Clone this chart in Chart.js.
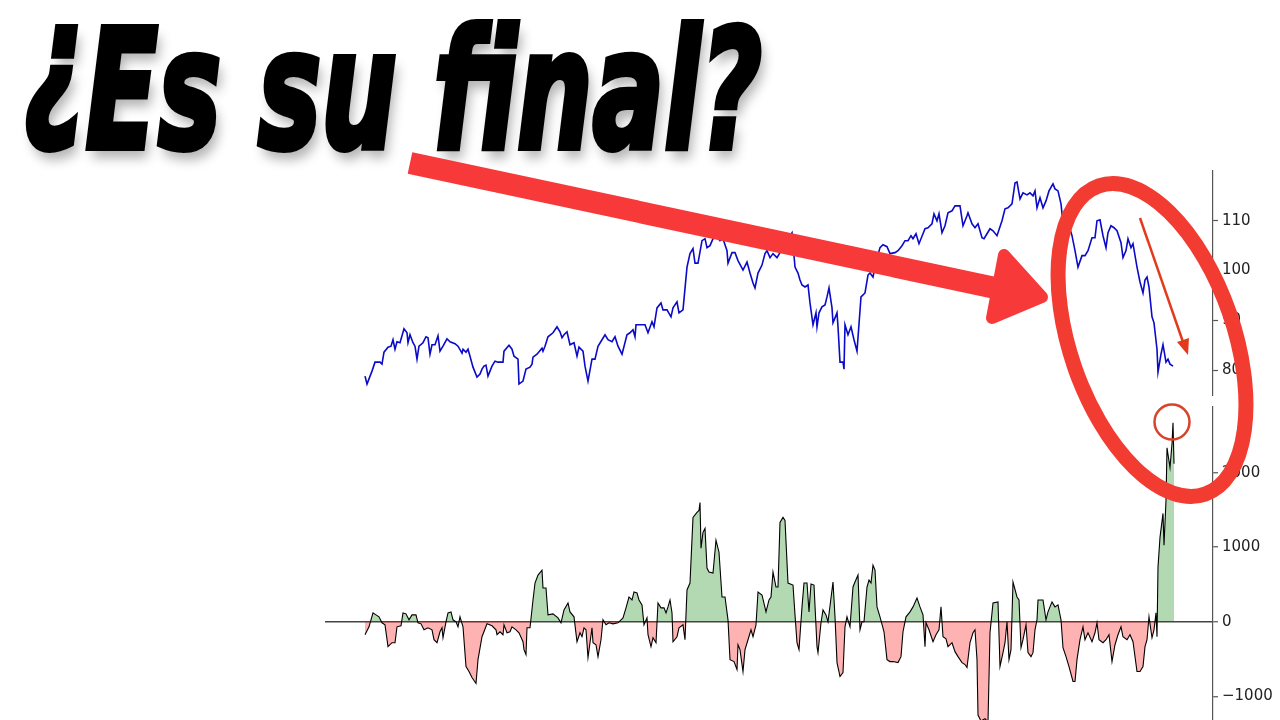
<!DOCTYPE html>
<html>
<head>
<meta charset="utf-8">
<script src="https://cdn.jsdelivr.net/npm/chart.js@4.4.1/dist/chart.umd.min.js"></script>
<style>
  html, body { margin: 0; padding: 0; background: #fff; width: 1280px; height: 720px; overflow: hidden; }
  #title {
    position: absolute; left: 24px; top: 8px;
    font-family: "Liberation Sans Narrow", "DejaVu Sans Condensed", "DejaVu Sans", sans-serif;
    font-stretch: condensed;
    font-weight: bold; font-style: italic;
    font-size: 166px; line-height: 1;
    color: #000;
    -webkit-text-stroke: 6px #000;
    text-shadow: 6px 10px 14px rgba(0, 0, 0, 0.3);
    white-space: nowrap;
    transform-origin: left top;
  }
  #title .inv { position: relative; top: -30px; }
  canvas { position: absolute; }
  #priceChart { left: 325px; top: 158px; }
  #oscChart { left: 325px; top: 394px; }
  #marks { position: absolute; left: 0; top: 0; }
</style>
</head>
<body>
<div id="title"><span class="inv">¿</span>Es su final?</div>
<canvas id="priceChart" width="955" height="250"></canvas>
<canvas id="oscChart" width="955" height="390"></canvas>

<svg id="marks" width="1280" height="720">
  <!-- big arrow -->
  <line x1="410" y1="163" x2="1000" y2="289" stroke="#f7393a" stroke-width="22" stroke-linecap="butt"/>
  <polygon points="1004,255 1042,297 992,318" fill="#f7393a" stroke="#f7393a" stroke-width="12" stroke-linejoin="round"/>
  <!-- circled area -->
  <ellipse cx="1152" cy="340" rx="82" ry="163" transform="rotate(-19 1152 340)"
           fill="none" stroke="#f23c32" stroke-width="15"/>
  <!-- small arrow -->
  <line x1="1140" y1="218" x2="1183" y2="342" stroke="#e23b1c" stroke-width="2.5"/>
  <polygon points="1188,355 1189,338 1177,342" fill="#e23b1c"/>
  <!-- small circle -->
  <circle cx="1172" cy="422" r="17.5" fill="none" stroke="#d9432a" stroke-width="2.5"/>
</svg>

<script>
// ================= DATA =================
// [session, price]
const priceSeries = [
  [0,78.8],[2,77.2],[7,79.8],[10,81.6],[15,81.6],[17,81.2],[19,83.6],[23,84.6],[26,84.8],[28,86.1],
  [30,84.2],[32,85.7],[35,85.5],[39,88.3],[42,87.5],[43,85.5],[45,87.1],[48,85.5],[50,84.8],[52,82.2],
  [54,84.8],[58,85.5],[61,86.7],[63,86.5],[65,83.2],[67,85.1],[70,85.1],[73,86.9],[75,83.8],[78,84.8],
  [82,86.3],[85,85.7],[90,85.3],[93,84.8],[97,83.4],[98,84.2],[101,83.6],[103,84.2],[105,82.8],[108,80.6],
  [112,78.6],[115,79.2],[117,80.2],[119,80.8],[121,81.0],[123,78.8],[127,80.8],[130,81.8],[133,81.6],[138,81.6],
  [139,83.8],[144,85.0],[147,84.2],[149,82.8],[153,82.2],[154,77.2],[158,77.8],[161,80.2],[165,80.6],[167,81.2],
  [168,82.6],[172,83.2],[177,84.4],[178,83.8],[180,84.8],[183,86.7],[188,87.5],[192,88.7],[195,87.7],[197,86.5],
  [199,87.1],[202,87.7],[205,85.1],[209,85.5],[212,82.8],[214,84.6],[218,83.8],[220,80.8],[223,77.8],[227,82.2],
  [230,82.2],[233,84.8],[237,86.1],[240,87.1],[243,86.1],[247,85.7],[250,86.7],[253,84.8],[257,83.2],[262,87.1],
  [265,87.5],[268,88.1],[270,86.7],[271,89.1],[275,89.1],[280,89.1],[283,87.5],[287,89.7],[289,88.7],[292,92.5],
  [296,93.5],[298,92.1],[302,92.1],[306,90.7],[308,92.5],[312,93.7],[314,91.5],[318,92.1],[322,100.7],[325,103.4],
  [328,104.4],[330,101.5],[333,101.5],[337,106.0],[340,106.4],[342,104.6],[345,105.0],[348,106.4],[352,106.8],[355,106.0],
  [358,106.4],[362,104.0],[363,101.5],[367,103.6],[370,103.6],[373,102.0],[378,100.1],[382,101.7],[385,99.5],[388,97.5],
  [390,96.5],[393,99.5],[397,101.1],[400,103.4],[402,104.0],[405,102.6],[408,103.4],[412,102.6],[415,103.6],[419,105.0],
  [423,106.4],[427,107.6],[430,100.7],[433,99.5],[435,98.1],[437,97.1],[440,96.7],[443,97.1],[445,93.5],[448,89.1],
  [451,91.5],[452,88.7],[454,91.5],[457,92.7],[460,93.1],[462,94.7],[464,96.5],[467,92.5],[468,89.5],[470,90.5],
  [472,91.5],[473,88.7],[475,81.6],[478,81.6],[479,80.2],[480,89.1],[483,87.1],[486,88.7],[489,86.1],[492,83.8],
  [496,94.7],[500,95.5],[503,99.1],[505,99.5],[508,98.7],[511,101.7],[515,104.6],[518,105.2],[522,104.8],[525,103.4],
  [530,103.6],[533,104.0],[537,105.0],[540,106.0],[543,106.0],[546,107.0],[548,106.4],[551,107.4],[554,105.4],[558,107.4],
  [560,108.4],[563,108.6],[567,109.4],[569,111.4],[572,110.0],[574,111.4],[577,107.6],[580,109.0],[583,111.6],[587,112.0],
  [590,113.0],[595,113.0],[598,109.0],[602,111.0],[603,111.6],[607,109.4],[610,108.6],[613,109.4],[617,106.6],[619,106.4],
  [622,107.4],[625,108.4],[628,108.0],[632,107.0],[637,110.0],[640,112.4],[643,112.6],[647,113.4],[650,117.6],[652,117.8],
  [655,114.4],[658,115.6],[662,115.2],[665,115.6],[668,115.0],[670,116.0],[672,112.6],[675,114.6],[678,112.6],[681,114.0],
  [684,116.0],[688,117.4],[690,116.4],[693,116.0],[696,113.4],[698,109.6],[701,111.4],[704,109.0],[707,107.0],[710,104.0],
  [713,100.7],[717,103.0],[720,103.0],[723,104.0],[727,106.6],[730,106.6],[732,110.0],[735,110.2],[738,107.0],[741,104.6],
  [743,107.6],[746,109.0],[749,108.6],[752,108.0],[756,105.6],[758,102.6],[761,104.0],[763,106.4],[766,104.6],[768,105.4],
  [772,100.7],[775,97.7],[778,95.5],[780,98.1],[782,98.7],[784,96.7],[787,90.7],[789,89.5],[792,84.2],[793,79.6],
  [796,83.2],[798,85.1],[801,81.6],[803,82.2],[805,81.2],[808,80.8]
];

// [session, oscillator]
const oscSeries = [
  [0,-173],[4,-67],[8,120],[11,93],[14,67],[17,-13],[20,-40],[23,-333],[27,-280],[30,-280],
  [32,-67],[36,-53],[38,120],[41,107],[44,27],[47,93],[51,93],[53,-13],[56,-27],[59,-107],
  [63,-80],[67,-107],[69,-240],[72,-280],[75,-133],[77,-80],[78,-213],[81,0],[83,120],[86,133],
  [88,27],[91,0],[93,-67],[95,67],[98,-67],[101,-600],[104,-667],[107,-747],[111,-827],[113,-507],
  [117,-200],[122,-27],[127,-53],[131,-107],[132,-173],[135,-133],[138,-173],[139,-40],[142,-147],[145,-133],
  [147,-67],[151,-107],[154,-147],[158,-267],[159,-373],[161,-440],[162,-80],[165,-80],[168,293],[170,520],
  [173,627],[177,693],[178,453],[181,453],[183,93],[188,107],[193,53],[196,-13],[199,160],[203,253],
  [205,133],[209,67],[212,-267],[215,-147],[217,-200],[219,-80],[221,-107],[223,-480],[227,-80],[228,-280],
  [231,-307],[233,-467],[236,-240],[238,27],[241,-40],[244,-13],[248,-27],[253,-13],[258,53],[261,187],
  [264,333],[267,293],[269,400],[272,387],[274,293],[277,227],[279,-40],[282,53],[283,-173],[286,-333],
  [288,-213],[291,-280],[293,253],[296,187],[299,187],[301,120],[303,200],[305,293],[307,120],[308,-267],
  [312,-200],[314,-80],[318,-40],[320,-240],[322,427],[325,520],[328,1400],[332,1467],[334,1493],[335,1600],
  [336,987],[338,1200],[340,1253],[342,720],[344,667],[348,653],[351,1093],[354,933],[357,333],[360,333],
  [363,27],[365,-507],[369,-533],[372,-640],[373,-307],[375,-373],[378,-667],[380,-373],[383,-240],[386,-107],
  [388,-200],[391,-40],[393,400],[397,360],[401,133],[404,293],[406,333],[408,667],[411,467],[413,467],
  [415,1333],[418,1400],[420,1360],[423,520],[428,493],[430,93],[432,-280],[434,-373],[437,200],[439,520],
  [442,520],[444,133],[446,507],[449,493],[452,-333],[453,-413],[456,-13],[458,160],[461,93],[463,0],
  [466,320],[468,533],[470,67],[472,-547],[475,-733],[478,-680],[480,-67],[482,67],[485,-67],[488,467],
  [490,533],[493,627],[495,-107],[497,0],[499,0],[502,467],[504,560],[506,520],[508,760],[510,693],
  [512,200],[515,67],[519,-133],[522,-507],[525,-533],[528,-533],[533,-547],[536,-467],[538,-133],[541,67],
  [545,133],[548,200],[552,320],[555,200],[558,93],[560,-333],[561,-13],[564,-107],[568,-267],[571,-173],
  [574,-107],[576,200],[578,-200],[581,-227],[583,-333],[587,-280],[590,-400],[593,-467],[597,-547],[600,-573],
  [602,-613],[605,-280],[608,-147],[610,-107],[612,-507],[613,-1250],[616,-1330],[620,-1300],[623,-1340],[625,-147],
  [628,253],[633,267],[635,-600],[638,-413],[640,-280],[642,0],[644,-507],[646,-373],[648,533],[652,333],
  [654,293],[656,-347],[658,-240],[661,-40],[663,-413],[666,-467],[668,-413],[670,-107],[672,27],[673,293],
  [678,293],[681,27],[683,133],[687,267],[690,200],[693,227],[696,27],[698,-347],[701,-467],[704,-600],
  [708,-800],[710,-800],[712,-507],[715,-240],[718,-67],[720,-240],[723,-147],[727,-267],[730,-147],[732,-13],
  [734,-240],[738,-280],[741,-240],[744,-173],[747,-533],[750,-307],[753,-173],[756,-67],[758,-200],[762,-240],
  [765,-173],[768,-267],[772,-667],[775,-667],[778,-600],[780,-333],[782,-240],[784,67],[787,-213],[789,-107],
  [791,120],[792,-200],[793,733],[795,1133],[798,1453],[799,1027],[801,1627],[802,2333],[805,2067],[807,2387],
  [808,2667],[809,2120]
];

const priceTicks = [80, 90, 100, 110];
const oscTicks = [-1000, 0, 1000, 2000];

// ================= SHARED OPTIONS =================
const AXIS_COLOR = "#555";
const TICK_FONT = { family: "DejaVu Sans", size: 15 };
const X_MIN = -40, X_MAX = 848;
const RIGHT_AXIS_W = 67;

const toXY = arr => arr.map(p => ({ x: p[0], y: p[1] }));
const fixTicks = list => scale => { scale.ticks = list.map(v => ({ value: v })); };
const minusFmt = v => String(v).replace("-", "\u2212");

function baseOptions(yMin, yMax, ticks, grid) {
  return {
    responsive: false,
    animation: false,
    layout: { padding: { top: 12, bottom: 12, left: 0, right: 0 } },
    plugins: { legend: { display: false }, tooltip: { enabled: false } },
    elements: { point: { radius: 0 }, line: { tension: 0 } },
    scales: {
      x: { type: "linear", min: X_MIN, max: X_MAX, display: false },
      y: {
        position: "right",
        min: yMin, max: yMax,
        afterBuildTicks: fixTicks(ticks),
        afterFit: s => { s.width = RIGHT_AXIS_W; },
        border: { display: true, color: AXIS_COLOR, width: 1.2 },
        grid,
        ticks: { font: TICK_FONT, color: "#222", padding: 4, callback: minusFmt }
      }
    }
  };
}

// ================= PRICE CHART =================
new Chart(document.getElementById("priceChart"), {
  type: "line",
  data: {
    datasets: [{
      data: toXY(priceSeries),
      borderColor: "rgb(10,10,200)",
      borderWidth: 1.6,
      fill: false
    }]
  },
  options: baseOptions(75, 120, priceTicks, {
    drawOnChartArea: false, tickLength: 5, tickColor: AXIS_COLOR, tickWidth: 1.2
  })
});

// ================= OSCILLATOR CHART =================
new Chart(document.getElementById("oscChart"), {
  type: "line",
  data: {
    datasets: [{
      data: toXY(oscSeries),
      borderColor: "#000",
      borderWidth: 1.1,
      fill: { target: "origin", above: "rgba(0,128,0,0.3)", below: "rgba(255,0,0,0.3)" }
    }]
  },
  options: baseOptions(-2000, 2880, oscTicks, {
    drawOnChartArea: true,
    color: c => (c.tick && c.tick.value === 0 ? "#444" : "rgba(0,0,0,0)"),
    lineWidth: 1.5,
    tickLength: 5, tickColor: AXIS_COLOR, tickWidth: 1.2
  })
});

// ================= TITLE FIT =================
const TITLE_W = 738;
const title = document.getElementById("title");
const tw = title.getBoundingClientRect().width;
title.style.transform = `scale(${TITLE_W / tw}, 1)`;
</script>
</body>
</html>
